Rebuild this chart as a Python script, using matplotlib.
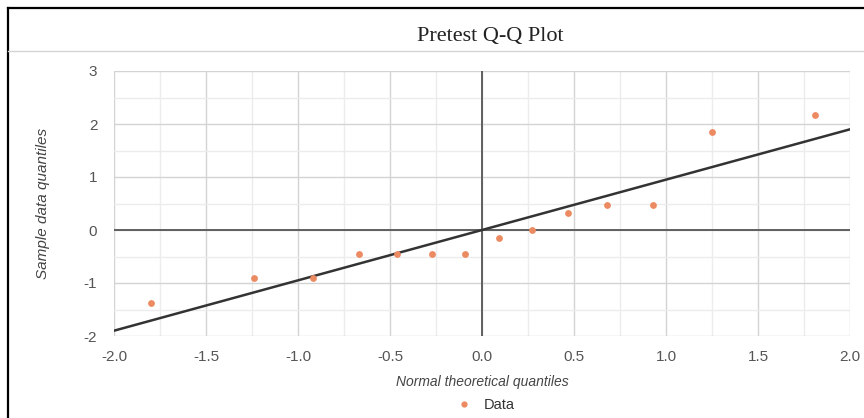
import matplotlib
matplotlib.use("Agg")
import matplotlib.pyplot as plt
from matplotlib.lines import Line2D
import numpy as np

theoretical = [-1.80, -1.24, -0.92, -0.67, -0.46, -0.27, -0.09, 0.09, 0.27, 0.47, 0.68, 0.93, 1.25, 1.81]
sample = [-1.38, -0.91, -0.91, -0.45, -0.45, -0.45, -0.45, -0.15, 0.0, 0.32, 0.47, 0.47, 1.85, 2.17]
fit_x = [-2.0, 2.0]
fit_y = [-1.9, 1.9]
xticks = [-2.0, -1.5, -1.0, -0.5, 0.0, 0.5, 1.0, 1.5, 2.0]
yticks = [-2, -1, 0, 1, 2, 3]

fig = plt.figure(figsize=(8.64, 4.18), dpi=100)
fig.patch.set_facecolor("white")

# outer frame (left + top)
fig.add_artist(Line2D([8/864, 8/864], [0, 1-8/418], transform=fig.transFigure, color="black", lw=1.6))
fig.add_artist(Line2D([8/864, 1], [1-8/418, 1-8/418], transform=fig.transFigure, color="black", lw=1.6))
# title separator
fig.add_artist(Line2D([8/864, 1], [1-51/418, 1-51/418], transform=fig.transFigure, color="#d4d4d4", lw=1.0))

fig.text(490/864, 1-37/418, "Pretest Q-Q Plot", ha="center", va="center",
         family="Liberation Serif", fontsize=16, color="#222222")

ax = fig.add_axes([114/864, 1-336/418, (850-114)/864, (336-71)/418])
ax.set_xlim(-2.0, 2.0)
ax.set_ylim(-2, 3)

ax.set_xticks(xticks)
ax.set_xticklabels([f"{t:.1f}" for t in xticks])
ax.set_yticks(yticks)
ax.set_yticklabels([str(t) for t in yticks])
ax.set_xticks(np.arange(-1.75, 2.0, 0.5), minor=True)
ax.set_yticks(np.arange(-1.5, 3.0, 1.0), minor=True)
ax.grid(which="major", color="#d3d3d3", lw=1.0)
ax.grid(which="minor", color="#ececec", lw=1.0)
ax.set_axisbelow(True)
for s in ax.spines.values():
    s.set_visible(False)
ax.tick_params(which="both", length=0)
ax.tick_params(axis="both", labelsize=11, labelcolor="#555555")
ax.tick_params(axis="x", pad=10)
ax.tick_params(axis="y", pad=12)
for lab in ax.get_xticklabels() + ax.get_yticklabels():
    lab.set_family("Liberation Sans")

ax.axhline(0, color="#555555", lw=1.3, zorder=2)
ax.axvline(0, color="#555555", lw=1.3, zorder=2)

ax.plot(fit_x, fit_y, color="#333333", lw=1.8, zorder=3)
ax.scatter(theoretical, sample, s=24, marker="o", color="#ec8a62", zorder=4, linewidths=0)

ax.set_xlabel("Normal theoretical quantiles", fontstyle="italic", family="Liberation Sans",
              fontsize=10, color="#444444", labelpad=8)
ax.set_ylabel("Sample data quantiles", fontstyle="italic", family="Liberation Sans",
              fontsize=11, color="#444444", labelpad=24)

leg = fig.legend(handles=[Line2D([], [], marker="o", ls="none", color="#ec8a62", markersize=4.5, markeredgewidth=0)],
                 labels=["Data"], loc="center", bbox_to_anchor=(484/864, 1-405/418), frameon=False,
                 prop={"family": "Liberation Sans", "size": 10.5}, handletextpad=0.6, handlelength=1.5)
for t in leg.get_texts():
    t.set_color("#333333")

fig.savefig("out.png", dpi=100, facecolor="white")
